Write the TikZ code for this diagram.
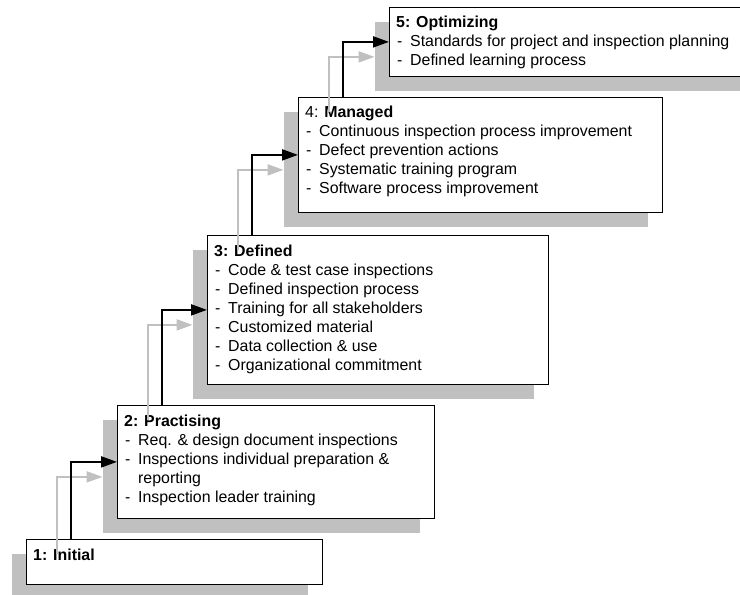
\documentclass[tikz,border=0pt]{standalone}
\usepackage{fontspec}
\setmainfont{Liberation Sans}
\usetikzlibrary{arrows.meta,shadows}
\definecolor{shade}{HTML}{C0C0C0}

\tikzset{
  stage/.style={rectangle, draw=black, line width=0.8pt, fill=white,
    inner sep=0pt, anchor=north west,
    drop shadow={shadow xshift=-14.5pt, shadow yshift=-14.5pt,
      fill=shade, draw=none, opacity=1}},
  stagetext/.style={anchor=base west, inner sep=0pt,
    font=\fontsize{15.9}{19}\selectfont},
  link/.style={draw=black, line width=2pt,
    -{Triangle[length=16pt,width=11pt]}},
  ghost/.style={draw=shade, line width=2pt,
    -{Triangle[length=16pt,width=11pt]}},
}

% bullet list of one maturity level
\newenvironment{levellist}{\begin{tabular}[t]{@{\hspace{1pt}}p{13pt}@{}l@{}}}{\end{tabular}}
\newcommand{\levelhead}[1]{\multicolumn{2}{@{}l@{}}{#1}}

\begin{document}
\begin{tikzpicture}[x=1pt,y=-1pt]
\useasboundingbox (0,0) rectangle (740,595);

% level boxes
\node[stage, minimum width=296pt, minimum height=45pt]  (b1) at (26,539) {};
\node[stage, minimum width=317pt, minimum height=113pt] (b2) at (117,405) {};
\node[stage, minimum width=341pt, minimum height=149pt] (b3) at (207,235) {};
\node[stage, minimum width=364pt, minimum height=115pt] (b4) at (298,97) {};
\node[stage, minimum width=380pt, minimum height=69pt]  (b5) at (389,7) {};

% level contents
\node[stagetext] (t1) at ([xshift=7pt,yshift=-21pt]b1.north west)
  {\begin{levellist}\levelhead{\textbf{1: Initial}}\end{levellist}};
\node[stagetext] (t2) at ([xshift=7pt,yshift=-21pt]b2.north west)
  {\begin{levellist}
   \levelhead{\textbf{2: Practising}}\\
   -& Req. \& design document inspections\\
   -& Inspections individual preparation \&\\
    & reporting\\
   -& Inspection leader training
   \end{levellist}};
\node[stagetext] (t3) at ([xshift=7pt,yshift=-21pt]b3.north west)
  {\begin{levellist}
   \levelhead{\textbf{3: Defined}}\\
   -& Code \& test case inspections\\
   -& Defined inspection process\\
   -& Training for all stakeholders\\
   -& Customized material\\
   -& Data collection \& use\\
   -& Organizational commitment
   \end{levellist}};
\node[stagetext] (t4) at ([xshift=7pt,yshift=-20pt]b4.north west)
  {\begin{levellist}
   \levelhead{4: \textbf{Managed}}\\
   -& Continuous inspection process improvement\\
   -& Defect prevention actions\\
   -& Systematic training program\\
   -& Software process improvement
   \end{levellist}};
\node[stagetext] (t5) at ([xshift=7pt,yshift=-20pt]b5.north west)
  {\begin{levellist}
   \levelhead{\textbf{5: Optimizing}}\\
   -& Standards for project and inspection planning\\
   -& Defined learning process
   \end{levellist}};

% step arrows with their shadows
\draw[ghost] ([xshift=30.5pt,yshift=-15pt]b1.north west) |- ([xshift=-14.5pt,yshift=-15pt]b2.west);
\draw[link]  ([xshift=45pt]b1.north west) |- (b2.west);
\draw[ghost] ([xshift=30.5pt,yshift=-15pt]b2.north west) |- ([xshift=-14.5pt,yshift=-15pt]b3.west);
\draw[link]  ([xshift=45pt]b2.north west) |- (b3.west);
\draw[ghost] ([xshift=30.5pt,yshift=-15pt]b3.north west) |- ([xshift=-14.5pt,yshift=-15pt]b4.west);
\draw[link]  ([xshift=45pt]b3.north west) |- (b4.west);
\draw[ghost] ([xshift=30.5pt,yshift=-15pt]b4.north west) |- ([xshift=-14.5pt,yshift=-15pt]b5.west);
\draw[link]  ([xshift=45pt]b4.north west) |- (b5.west);
\end{tikzpicture}
\end{document}
